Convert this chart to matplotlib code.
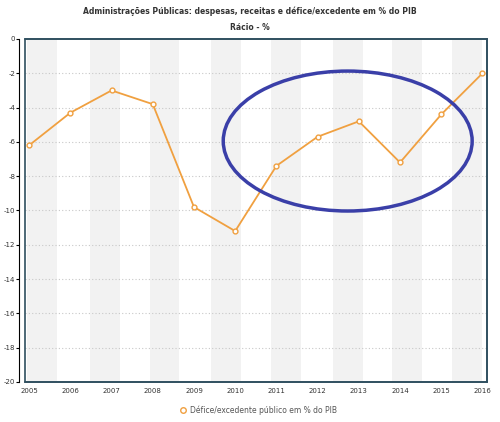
import matplotlib
matplotlib.use("Agg")
import matplotlib.pyplot as plt
from matplotlib.patches import Ellipse, Rectangle

years = [2005, 2006, 2007, 2008, 2009, 2010, 2011, 2012, 2013, 2014, 2015, 2016]
values = [-6.2, -4.3, -3.0, -3.8, -9.8, -11.2, -7.4, -5.7, -4.8, -7.2, -4.4, -2.0]
series_name = "Défice/excedente público em % do PIB"
title = "Administrações Públicas: despesas, receitas e défice/excedente em % do PIB"
subtitle = "Rácio - %"

fig = plt.figure(figsize=(5, 4.22), dpi=100)
ax = fig.add_axes([0.05, 0.0948, 0.924, 0.8128])
ax.set_xlim(2004.9, 2016.11)
ax.set_ylim(-20, 0)

px0 = 27.0; ppy = 41.4
for start in [25, 88, 148, 210, 270, 332, 392, 452]:
    a = 2005 + (start - px0) / ppy
    ax.axvspan(a, a + 30 / ppy, color="#f2f2f2", zorder=0, lw=0)

for y in range(-18, 0, 2):
    ax.axhline(y, color="#c8c8c8", lw=0.8, ls=(0, (1, 2)), zorder=1)

ax.plot(years, values, color="#f0a040", lw=1.3, marker="o", ms=3.5,
        mfc="white", mec="#f0a040", mew=1, zorder=3)

ax.add_patch(Ellipse((2012.73, -5.95), 6.04, 8.16, fill=False,
                     ec="#3a3fa8", lw=2.5, zorder=4))

for s in ["top", "right", "bottom"]:
    ax.spines[s].set_color("#2f4f5f")
    ax.spines[s].set_linewidth(1.2)
ax.spines["left"].set_position(("outward", 4))
ax.spines["left"].set_color("black")
ax.add_patch(Rectangle((0, 0), 1, 1, transform=ax.transAxes, fill=False,
                       ec="#2f4f5f", lw=1.2, zorder=5, clip_on=False))

ax.set_yticks(range(-20, 1, 2))
ax.set_yticklabels([str(v) for v in range(-20, 1, 2)], fontsize=5, color="#333333")
ax.set_xticks(years)
ax.set_xticklabels([str(y) for y in years], fontsize=5, color="#333333")
ax.tick_params(axis="y", length=2.5, pad=0.5)
ax.tick_params(axis="x", length=0, pad=4)

fig.text(0.5, 0.985, title, ha="center", va="top", fontsize=5.5, color="#333333", fontweight="bold")
fig.text(0.5, 0.945, subtitle, ha="center", va="top", fontsize=5.5, color="#333333", fontweight="bold")

fig.lines.append(plt.Line2D([0.365], [1 - 410 / 422], transform=fig.transFigure,
                            marker="o", ms=4, mfc="white", mec="#f0a040", color="#f0a040"))
fig.text(0.38, 1 - 410 / 422, series_name, ha="left", va="center", fontsize=5.5, color="#555555")

fig.savefig("out.png", dpi=100)
